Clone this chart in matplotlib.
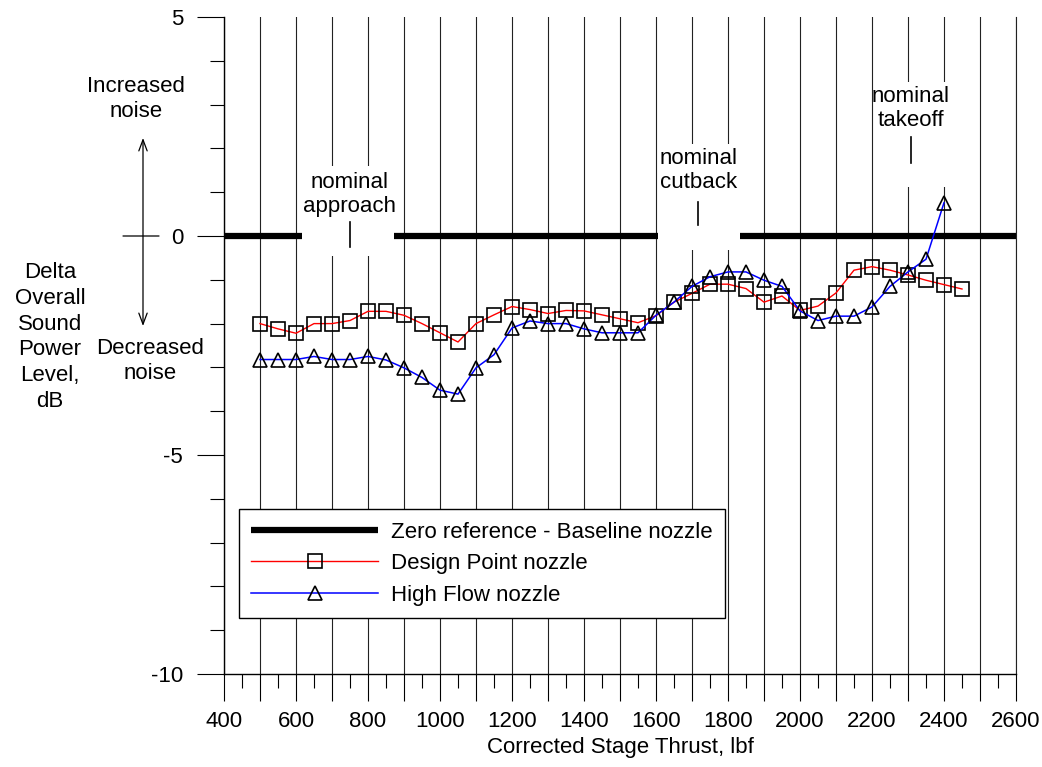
import matplotlib
matplotlib.use("Agg")
import matplotlib.pyplot as plt
from matplotlib.patches import Rectangle
from matplotlib.ticker import MultipleLocator, FixedLocator, FuncFormatter

plt.rcParams['font.family'] = ['Liberation Sans', 'DejaVu Sans']

# Corrected stage thrust (lbf) and delta OASPL (dB) per nozzle
thrust_design = [500, 550, 600, 650, 700, 750, 800, 850, 900, 950,
                 1000, 1050, 1100, 1150, 1200, 1250, 1300, 1350, 1400, 1450,
                 1500, 1550, 1600, 1650, 1700, 1750, 1800, 1850, 1900, 1950,
                 2000, 2050, 2100, 2150, 2200, 2250, 2300, 2350, 2400, 2450]
delta_design = [-2.00, -2.12, -2.22, -2.00, -2.00, -1.93, -1.72, -1.72, -1.81, -2.00,
                -2.21, -2.42, -2.00, -1.80, -1.61, -1.68, -1.77, -1.70, -1.71, -1.80,
                -1.89, -1.98, -1.82, -1.51, -1.31, -1.10, -1.10, -1.20, -1.51, -1.37,
                -1.70, -1.60, -1.30, -0.78, -0.70, -0.78, -0.89, -1.01, -1.11, -1.21]

thrust_highflow = [500, 550, 600, 650, 700, 750, 800, 850, 900, 950,
                   1000, 1050, 1100, 1150, 1200, 1250, 1300, 1350, 1400, 1450,
                   1500, 1550, 1600, 1650, 1700, 1750, 1800, 1850, 1900, 1950,
                   2000, 2050, 2100, 2150, 2200, 2250, 2300, 2350, 2400]
delta_highflow = [-2.82, -2.82, -2.82, -2.75, -2.82, -2.82, -2.75, -2.83, -3.01, -3.23,
                  -3.52, -3.61, -3.01, -2.71, -2.10, -1.94, -2.00, -2.00, -2.12, -2.21,
                  -2.21, -2.21, -1.81, -1.51, -1.15, -0.93, -0.82, -0.82, -1.01, -1.15,
                  -1.71, -1.93, -1.83, -1.83, -1.62, -1.15, -0.82, -0.53, 0.76]

zero_thrust = [400, 2600]
zero_delta = [0, 0]

# Operating-condition callouts: label, thrust of marker, text centre y, marker span
callout_labels = ["nominal\napproach", "nominal\ncutback", "nominal\ntakeoff"]
callout_thrust = [750, 1717, 2308]
callout_text_y = [0.95, 1.50, 2.91]
callout_tick_y = [(-0.25, 0.32), (0.25, 0.78), (1.67, 2.25)]
# white label backgrounds (x0, x1, y0, y1)
callout_boxes = [(617, 872, -0.45, 1.60), (1605, 1834, -0.32, 2.10), (2205, 2470, 1.12, 3.51)]

FS = 16

fig = plt.figure(figsize=(10.42, 7.67), dpi=100)
ax = fig.add_axes([224 / 1042, 1 - 674 / 767, 792 / 1042, 657 / 767])

ax.set_xlim(400, 2600)
ax.set_ylim(-10, 5)

# axes styling
ax.spines['top'].set_visible(False)
ax.spines['right'].set_linewidth(0.8)
ax.spines['right'].set_color('#222222')
ax.spines['left'].set_linewidth(1.0)
ax.spines['bottom'].set_linewidth(1.0)

ax.xaxis.set_major_locator(MultipleLocator(100))
ax.xaxis.set_minor_locator(MultipleLocator(50))
ax.xaxis.set_major_formatter(FuncFormatter(lambda v, p: f"{int(round(v))}" if round(v) % 200 == 0 else ""))
ax.yaxis.set_major_locator(FixedLocator([-10, -5, 0, 5]))
ax.yaxis.set_minor_locator(MultipleLocator(1))
ax.yaxis.set_major_formatter(FuncFormatter(lambda v, p: f"{int(round(v))}"))

ax.tick_params(axis='both', which='major', direction='out', length=19.5, width=0.8,
               labelsize=FS, pad=7)
ax.tick_params(axis='both', which='minor', direction='out', length=10, width=0.8)
ax.tick_params(axis='y', which='major', pad=10)

ax.set_axisbelow(True)
ax.grid(axis='x', which='major', color='#222222', linewidth=0.8)
ax.grid(axis='y', visible=False)

ax.set_xlabel("Corrected Stage Thrust, lbf", fontsize=FS, labelpad=4)

# zero reference
zero_line, = ax.plot(zero_thrust, zero_delta, color='black', linewidth=4.5,
                     solid_capstyle='butt', zorder=1, label="Zero reference - Baseline nozzle")

# callout backgrounds, texts and tick marks
for (x0, x1, y0, y1) in callout_boxes:
    ax.add_patch(Rectangle((x0, y0), x1 - x0, y1 - y0, facecolor='white',
                           edgecolor='none', zorder=1.5))
for lab, xt, yt, (ty0, ty1) in zip(callout_labels, callout_thrust, callout_text_y, callout_tick_y):
    ax.text(xt, yt, lab, ha='center', va='center', fontsize=FS, zorder=3, linespacing=1.15)
    ax.plot([xt, xt], [ty0, ty1], color='black', linewidth=1.2, zorder=3)

# nozzle series
dp_line, = ax.plot(thrust_design, delta_design, color='red', linewidth=1.0,
                   marker='s', markersize=10, markerfacecolor='none',
                   markeredgecolor='black', markeredgewidth=1.2, zorder=4,
                   label="Design Point nozzle")
hf_line, = ax.plot(thrust_highflow, delta_highflow, color='blue', linewidth=1.1,
                   marker='^', markersize=10, markerfacecolor='none',
                   markeredgecolor='black', markeredgewidth=1.2, zorder=4,
                   label="High Flow nozzle")

leg = ax.legend(handles=[zero_line, dp_line, hf_line], loc='lower left',
                bbox_to_anchor=(0.019, 0.085), fontsize=FS, frameon=True,
                fancybox=False, framealpha=1, edgecolor='black',
                handlelength=5.7, handletextpad=0.6, labelspacing=0.48,
                borderpad=0.55, borderaxespad=0, numpoints=1)
leg.get_frame().set_linewidth(1.0)
leg.set_zorder(5)

# y-axis title and direction hints
fig.text(50 / 1042, 1 - 337 / 767, "Delta\nOverall\nSound\nPower\nLevel,\ndB",
         ha='center', va='center', fontsize=FS, linespacing=1.3)
fig.text(136 / 1042, 1 - 99 / 767, "Increased\nnoise", ha='center', va='center',
         fontsize=FS, linespacing=1.3)
fig.text(150 / 1042, 1 - 361 / 767, "Decreased\nnoise", ha='center', va='center',
         fontsize=FS, linespacing=1.25)
ax.annotate("", xy=(143, 767 - 138), xycoords='figure pixels',
            xytext=(143, 767 - 326), textcoords='figure pixels',
            arrowprops=dict(arrowstyle='<->,head_length=0.8,head_width=0.3',
                            color='black', linewidth=0.9, shrinkA=0, shrinkB=0),
            annotation_clip=False)
ax.annotate("", xy=(123, 767 - 236), xycoords='figure pixels',
            xytext=(159, 767 - 236), textcoords='figure pixels',
            arrowprops=dict(arrowstyle='-', color='black', linewidth=0.9,
                            shrinkA=0, shrinkB=0),
            annotation_clip=False)

fig.savefig("out.png", dpi=100)
